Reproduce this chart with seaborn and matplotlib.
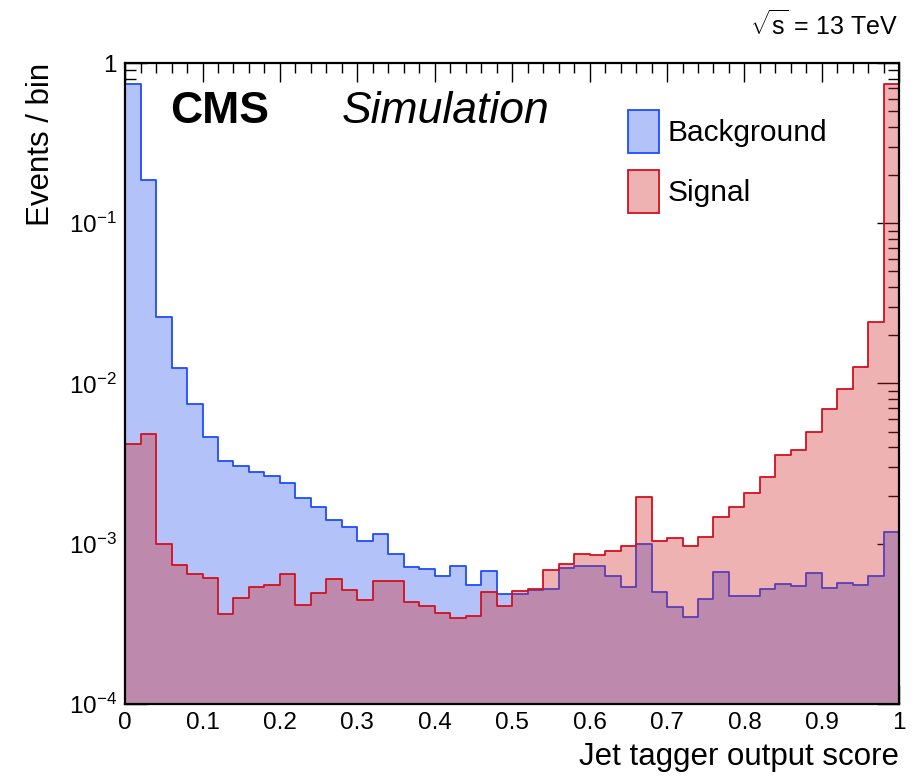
import numpy as np
import pandas as pd
import matplotlib
matplotlib.use("Agg")
import matplotlib.pyplot as plt
from matplotlib.patches import Patch
from matplotlib.ticker import FixedLocator, LogLocator, MultipleLocator, NullFormatter
import seaborn as sns

# Per-bin yields, 50 equal bins on [0, 1]
n_bins = 50
score_range = (0.0, 1.0)
background = [0.74, 0.186, 0.0259, 0.01245, 0.00745, 0.00466, 0.00328, 0.00305, 0.00279, 0.00265,
              0.0024, 0.00192, 0.00169, 0.00141, 0.00127, 0.00104, 0.00115, 0.00086, 0.000713, 0.000692,
              0.000629, 0.000723, 0.000555, 0.000673, 0.000488, 0.000483, 0.000514, 0.000522, 0.00071, 0.00073,
              0.000722, 0.000626, 0.000537, 0.00099, 0.000502, 0.000405, 0.000351, 0.000454, 0.00067, 0.000472,
              0.00047, 0.000522, 0.000563, 0.000542, 0.00066, 0.000527, 0.000566, 0.000555, 0.000626, 0.00118]
signal = [0.00419, 0.00484, 0.001, 0.000735, 0.000648, 0.000608, 0.000365, 0.000461, 0.00054, 0.000555,
          0.00065, 0.000415, 0.000491, 0.000605, 0.000517, 0.000448, 0.000587, 0.000587, 0.000431, 0.000409,
          0.000372, 0.000343, 0.000356, 0.0005, 0.00041, 0.000505, 0.00052, 0.000683, 0.000744, 0.000867,
          0.000851, 0.000906, 0.000973, 0.00196, 0.001045, 0.00109, 0.000964, 0.0011, 0.00146, 0.0017,
          0.00207, 0.0026, 0.00358, 0.00387, 0.005, 0.00693, 0.0092, 0.0126, 0.0241, 0.743]
series_labels = ["Background", "Signal"]
y_tick_values = [1e-4, 1e-3, 1e-2, 1e-1, 1]
y_tick_labels = [r"$10^{-4}$", r"$10^{-3}$", r"$10^{-2}$", r"$10^{-1}$", "1"]
x_tick_values = [0, 0.1, 0.2, 0.3, 0.4, 0.5, 0.6, 0.7, 0.8, 0.9, 1]
x_tick_labels = ["0", "0.1", "0.2", "0.3", "0.4", "0.5", "0.6", "0.7", "0.8", "0.9", "1"]

edges = np.linspace(score_range[0], score_range[1], n_bins + 1)
centers = 0.5 * (edges[:-1] + edges[1:])
df = pd.DataFrame({"score": centers, "Background": background, "Signal": signal})

sns.set_theme(style="ticks")
plt.rcParams["font.family"] = ["Liberation Sans", "DejaVu Sans"]
plt.rcParams["mathtext.fontset"] = "custom"
plt.rcParams["mathtext.rm"] = "Liberation Sans"
plt.rcParams["mathtext.it"] = "Liberation Sans:italic"
plt.rcParams["mathtext.bf"] = "Liberation Sans:bold"
for key in ["text.color", "axes.labelcolor", "xtick.color", "ytick.color", "axes.edgecolor"]:
    plt.rcParams[key] = "black"

bg_face = "#b3c2f8"
bg_edge = "#1f4cff"
sig_face = (209 / 255, 35 / 255, 35 / 255, 0.35)
sig_edge = "#d4101e"

fig = plt.figure(figsize=(9.13, 7.76), dpi=100)
ax = fig.add_axes([0.137, 0.0928, 0.848, 0.826])

sns.histplot(data=df, x="score", weights="Background", bins=n_bins, binrange=score_range,
             element="step", fill=True, facecolor=bg_face, edgecolor=bg_edge, linewidth=1.3, ax=ax)
sns.histplot(data=df, x="score", weights="Signal", bins=n_bins, binrange=score_range,
             element="step", fill=True, facecolor=sig_face, edgecolor=sig_edge, linewidth=1.3, ax=ax)

ax.set_yscale("log")
ax.set_xlim(0, 1)
ax.set_ylim(1e-4, 1)

ax.xaxis.set_major_locator(FixedLocator(x_tick_values))
ax.set_xticklabels(x_tick_labels)
ax.xaxis.set_minor_locator(MultipleLocator(0.02))
ax.yaxis.set_major_locator(FixedLocator(y_tick_values))
ax.set_yticklabels(y_tick_labels)
ax.yaxis.set_minor_locator(LogLocator(base=10, subs=np.arange(2, 10)))
ax.yaxis.set_minor_formatter(NullFormatter())

ax.tick_params(axis="both", which="both", direction="in", top=True, right=True,
               width=1.0, color="black", labelcolor="black", labelsize=17.5)
ax.tick_params(axis="x", which="major", length=14, pad=6)
ax.tick_params(axis="x", which="minor", length=7)
ax.tick_params(axis="y", which="major", length=16, pad=6)
ax.tick_params(axis="y", which="minor", length=8)
for s in ax.spines.values():
    s.set_linewidth(1.6)
    s.set_color("black")

ax.set_xlabel("Jet tagger output score", fontsize=22.5, ha="right", color="black")
ax.xaxis.set_label_coords(1.0, -0.06)
ax.set_ylabel("Events / bin", fontsize=22.5, ha="right", color="black")
ax.yaxis.set_label_coords(-0.089, 1.0)

ax.text(0.058, 0.924, "CMS", transform=ax.transAxes, fontsize=32, fontweight="bold",
        ha="left", va="center", color="black")
ax.text(0.280, 0.924, "Simulation", transform=ax.transAxes, fontsize=32, style="italic",
        ha="left", va="center", color="black")
fig.text(0.9836, 0.968, r"$\sqrt{\mathrm{s}}$ = 13 TeV", fontsize=18, ha="right", va="center",
         color="black")

handles = [Patch(facecolor=bg_face, edgecolor=bg_edge, linewidth=1.3),
           Patch(facecolor=(239 / 255, 178 / 255, 178 / 255), edgecolor=sig_edge, linewidth=1.3)]
leg = ax.legend(handles, series_labels, loc="upper left", bbox_to_anchor=(0.649, 0.927),
                frameon=False, fontsize=21.5, handlelength=1.04, handleheight=1.84,
                handletextpad=0.3, labelspacing=0.57, borderpad=0, borderaxespad=0)
for t in leg.get_texts():
    t.set_color("black")

fig.savefig("out.png", dpi=100)
